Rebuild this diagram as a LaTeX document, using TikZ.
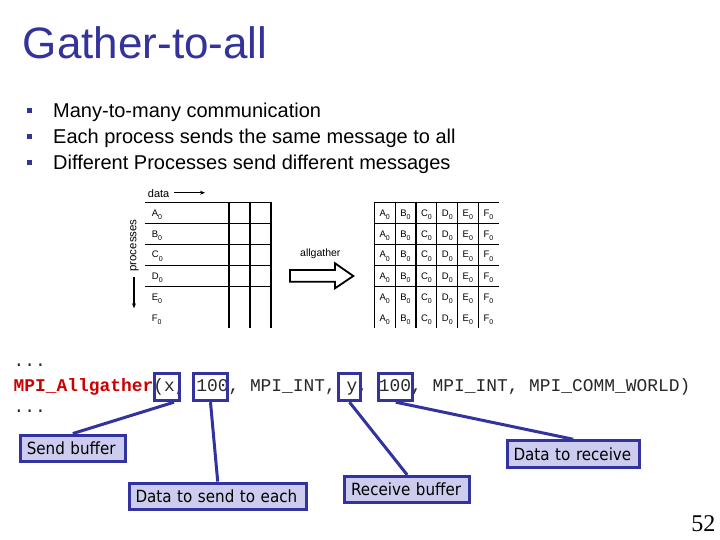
\documentclass[tikz,border=0pt]{standalone}
\usepackage{fontspec}
\setmainfont{Liberation Sans}
\setmonofont{Liberation Mono}
\newfontfamily\boxfont{DejaVu Sans Condensed}
\newfontfamily\numfont{Liberation Serif}
\usetikzlibrary{arrows.meta}
\definecolor{titleblue}{RGB}{51,51,153}
\definecolor{boxblue}{RGB}{51,51,160}
\definecolor{boxfill}{RGB}{204,204,238}
\definecolor{codered}{RGB}{204,0,0}
\definecolor{codegray}{RGB}{40,40,40}
\newcommand{\cellab}[1]{#1\raisebox{-3.5pt}{\fontsize{7}{7}\selectfont 0}}
\begin{document}
\begin{tikzpicture}[x=1pt,y=-1pt,
  bullettext/.style={anchor=base west, inner sep=0, font=\fontsize{20}{24}\selectfont},
  bulletsq/.style={fill=titleblue, minimum size=5pt, inner sep=0},
  gridline/.style={line width=1.2pt},
  smalllbl/.style={anchor=base west, inner sep=0, font=\fontsize{9.5}{10}\selectfont},
  codetxt/.style={anchor=base west, inner sep=0, text=codegray, font=\fontsize{17.9}{20}\selectfont\ttfamily},
  tokbox/.style={draw=boxblue, line width=2.8pt, minimum height=27pt, inner sep=0},
  lblbox/.style={draw=boxblue, line width=3pt, fill=boxfill, inner xsep=6.5pt, inner ysep=0pt, minimum height=26.3pt, align=left, font=\fontsize{16.8}{18}\selectfont\boxfont},
  conn/.style={draw=boxblue, line width=3pt},
]
\useasboundingbox (0,0) rectangle (720,540);
\fill[white] (0,0) rectangle (720,540);

% title
\node[anchor=base west, inner sep=0, text=titleblue, font=\fontsize{44}{48}\selectfont] (title) at (22.7,58.3) {Gather-to-all};

% bullets
\node[bulletsq] (b1) at (29,110.5) {};
\node[bulletsq] (b2) at (29,136.7) {};
\node[bulletsq] (b3) at (29,162.7) {};
\node[bullettext] (t1) at (53,117.3) {Many-to-many communication};
\node[bullettext] (t2) at (53,143.5) {Each process sends the same message to all};
\node[bullettext] (t3) at (53,169.5) {Different Processes send different messages};

% data arrow
\node[anchor=base west, inner sep=0, font=\fontsize{11}{12}\selectfont] (datalbl) at (147.7,197.3) {data};
\coordinate (d1) at (174,192.7);
\coordinate (d2) at (205,192.7);
\draw[-{Stealth[length=5pt,width=4pt]}, line width=1.2pt] (d1) -- (d2);

% processes arrow
\node[rotate=90, inner sep=0, font=\fontsize{11.5}{12}\selectfont] (proclbl) at (134.5,245.5) {processes};
\coordinate (p1) at (134,276.7);
\coordinate (p2) at (134,308.3);
\draw[-{Stealth[length=5pt,width=4pt]}, line width=1.2pt] (p1) -- (p2);

% left table
\foreach \y in {202.7,223.7,244.7,265.7,286.7} \draw[gridline] (145,\y) -- (271,\y);
\foreach \x in {229,250,271} \draw[gridline] (\x,201.7) -- (\x,328.3);
\foreach \l [count=\i from 0] in {A,B,C,D,E,F}
  \node[smalllbl] (L\l) at (151.7,216+21*\i) {\cellab{\l}};

% allgather arrow
\node[anchor=base west, inner sep=0, font=\fontsize{10.5}{12}\selectfont] (aglbl) at (300,256.5) {allgather};
\draw[line width=1.8pt] (290,270) -- (335,270) -- (335,263.3) -- (353.3,276) -- (335,288.3) -- (335,281.7) -- (290,281.7) -- cycle;

% right table
\foreach \y in {202.7,223.7,244.7,265.7,286.7} \draw[gridline] (374.3,\y) -- (499.3,\y);
\foreach \x in {374.3,395.1,415.9,436.7,457.5,478.3} \draw[gridline] (\x,201.7) -- (\x,328.3);
\foreach \l [count=\c from 0] in {A,B,C,D,E,F}
  \foreach \r in {0,...,5}
    \node[smalllbl] (R\l\r) at (379.3+20.8*\c,216+21*\r) {\cellab{\l}};

% code
\node[codetxt] (dots1) at (13.5,366) {...};
\node[codetxt] (code) at (13.5,391) {\textcolor{codered}{\bfseries MPI\_Allgather}(x, 100, MPI\_INT, y, 100, MPI\_INT, MPI\_COMM\_WORLD)};
\node[codetxt] (dots2) at (13.5,412) {...};

\node[tokbox, minimum width=25pt] (xbox) at (167,387.3) {};
\node[tokbox, minimum width=33.4pt] (nbox1) at (210.5,387.3) {};
\node[tokbox, minimum width=22pt] (ybox) at (349.5,387.3) {};
\node[tokbox, minimum width=34pt] (nbox2) at (395.8,387.3) {};

% label boxes
\node[lblbox, text width=92pt] (sendbuf) at (72.8,448.2) {Send buffer};
\node[lblbox, text width=164.3pt] (sendeach) at (217.7,496.2) {Data to send to each};
\node[lblbox, text width=112pt] (recvbuf) at (407.2,489.5) {Receive buffer};
\node[lblbox, text width=119.3pt] (datarecv) at (573.2,453.9) {Data to receive};

% connectors
\draw[conn] (xbox.-65) -- (sendbuf.north);
\draw[conn] (nbox1.south) -- (sendeach.north);
\draw[conn] (ybox.south) -- (recvbuf.north);
\draw[conn] (nbox2.south) -- (datarecv.north);

% page number
\node[anchor=base east, inner sep=0, font=\fontsize{24}{26}\selectfont\numfont] (pnum) at (715.5,531.7) {52};
\end{tikzpicture}
\end{document}
